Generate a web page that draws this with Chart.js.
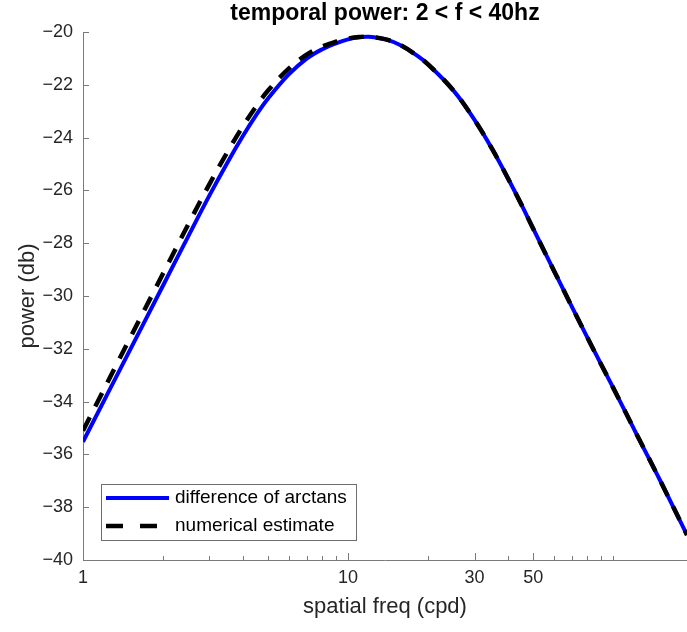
<!DOCTYPE html>
<html>
<head>
<meta charset="utf-8">
<script src="https://cdn.jsdelivr.net/npm/chart.js@4.4.1/dist/chart.umd.min.js"></script>
<style>
html,body{margin:0;padding:0;background:#fff;}
#wrap{width:687px;height:632px;}
canvas{display:block;}
</style>
</head>
<body>
<div id="wrap"><canvas id="c" width="687" height="632"></canvas></div>
<script>
// ---- data ----
const freqs = [1, 1.5, 2, 2.5, 3, 3.5, 4, 4.5, 5, 6, 7, 8, 9, 10, 11, 12, 14, 16, 18, 20, 25, 30, 35, 40, 45, 50, 60, 80, 100, 125, 150, 190];
const arctanDiff = [-35.52, -32.07, -29.62, -27.72, -26.19, -24.96, -23.96, -23.15, -22.51, -21.59, -21.00, -20.65, -20.43, -20.28, -20.20, -20.18, -20.29, -20.53, -20.86, -21.22, -22.22, -23.33, -24.44, -25.52, -26.52, -27.46, -29.07, -31.58, -33.47, -35.40, -36.96, -39.05];
const numericalEst = [-35.10, -31.62, -29.17, -27.27, -25.76, -24.56, -23.59, -22.82, -22.21, -21.37, -20.85, -20.55, -20.37, -20.25, -20.19, -20.18, -20.29, -20.53, -20.86, -21.22, -22.22, -23.33, -24.44, -25.52, -26.52, -27.46, -29.07, -31.58, -33.47, -35.40, -36.96, -39.05];
const seriesLabels = ['difference of arctans', 'numerical estimate'];
const xMajorTicks = [1, 10, 30, 50];
const xMinorTicks = [2, 3, 4, 5, 6, 7, 8, 9, 20, 40, 60, 70, 80, 90, 100];
const yTicks = [-40, -38, -36, -34, -32, -30, -28, -26, -24, -22, -20];
const xRange = [1, 190];
const yRange = [-40, -20];
const titleText = 'temporal power: 2 < f < 40hz';
const xTitle = 'spatial freq (cpd)';
const yTitle = 'power (db)';

const FONT = "'Liberation Sans', Arial, Helvetica, sans-serif";
const AXIS_COLOR = '#7a7a7a';
const TEXT_COLOR = '#262626';

const toPts = arr => freqs.map((f, i) => ({x: f, y: arr[i]}));
const fmtNum = v => (v < 0 ? '\u2212' + Math.abs(v) : String(v));

const decor = {
  id: 'decor',
  afterDatasetsDraw(chart) {
    const {ctx, chartArea: a, scales: {x, y}} = chart;
    ctx.save();
    // inward tick marks (MATLAB style)
    ctx.strokeStyle = AXIS_COLOR;
    ctx.lineWidth = 1;
    ctx.beginPath();
    xMajorTicks.forEach(v => {
      const px = Math.round(x.getPixelForValue(v)) + 0.5;
      ctx.moveTo(px, a.bottom); ctx.lineTo(px, a.bottom - 7);
    });
    xMinorTicks.forEach(v => {
      const px = Math.round(x.getPixelForValue(v)) + 0.5;
      ctx.moveTo(px, a.bottom); ctx.lineTo(px, a.bottom - 4);
    });
    yTicks.forEach(v => {
      const py = Math.round(y.getPixelForValue(v)) + 0.5;
      ctx.moveTo(a.left, py); ctx.lineTo(a.left + 6, py);
    });
    ctx.stroke();

    // legend box
    const bx = 101.5, by = 484.5, bw = 255, bh = 56;
    ctx.fillStyle = '#fff';
    ctx.fillRect(bx, by, bw, bh);
    ctx.strokeStyle = '#6e6e6e';
    ctx.lineWidth = 1;
    ctx.strokeRect(bx, by, bw, bh);
    const rows = [498, 526];
    chart.data.datasets.forEach((ds, i) => {
      const ry = rows[i];
      ctx.beginPath();
      ctx.strokeStyle = ds.borderColor;
      ctx.lineWidth = ds.borderWidth;
      ctx.setLineDash(ds.borderDash && ds.borderDash.length ? [17, 17] : []);
      ctx.moveTo(106, ry); ctx.lineTo(169, ry);
      ctx.stroke();
      ctx.setLineDash([]);
      ctx.fillStyle = '#000';
      ctx.font = '19px ' + FONT;
      ctx.textBaseline = 'middle';
      ctx.textAlign = 'left';
      ctx.fillText(ds.label, 175, ry);
    });
    ctx.restore();
  }
};

new Chart(document.getElementById('c'), {
  type: 'line',
  data: {
    datasets: [
      {
        label: seriesLabels[0],
        data: toPts(arctanDiff),
        borderColor: '#0000ff',
        borderWidth: 4,
        pointRadius: 0,
        tension: 0.4,
        fill: false,
        order: 1
      },
      {
        label: seriesLabels[1],
        data: toPts(numericalEst),
        borderColor: '#000000',
        borderWidth: 4.5,
        borderDash: [15, 12],
        pointRadius: 0,
        tension: 0.4,
        fill: false,
        order: 0
      }
    ]
  },
  options: {
    responsive: false,
    animation: false,
    devicePixelRatio: 1,
    layout: {padding: 0},
    plugins: {
      legend: {display: false},
      tooltip: {enabled: false},
      title: {
        display: true,
        text: titleText,
        fullSize: false,
        color: '#000',
        font: {family: FONT, size: 23, weight: 'bold'},
        padding: {top: 0, bottom: 4.4}
      }
    },
    scales: {
      x: {
        type: 'logarithmic',
        min: xRange[0],
        max: xRange[1],
        grid: {display: false, drawTicks: false},
        border: {display: true, color: AXIS_COLOR, width: 1},
        afterBuildTicks: s => { s.ticks = xMajorTicks.map(v => ({value: v})); },
        afterFit: s => { s.height = 72; },
        ticks: {
          autoSkip: false,
          maxRotation: 0,
          padding: 7,
          color: TEXT_COLOR,
          font: {family: FONT, size: 18},
          callback: v => fmtNum(v)
        },
        title: {
          display: true,
          text: xTitle,
          color: TEXT_COLOR,
          font: {family: FONT, size: 22},
          padding: {top: 0, bottom: 11.8}
        }
      },
      y: {
        type: 'linear',
        min: yRange[0],
        max: yRange[1],
        grid: {display: false, drawTicks: false},
        border: {display: true, color: AXIS_COLOR, width: 1},
        afterBuildTicks: s => { s.ticks = yTicks.map(v => ({value: v})); },
        afterFit: s => { s.width = 83; },
        ticks: {
          padding: 10,
          color: TEXT_COLOR,
          font: {family: FONT, size: 18},
          callback: v => fmtNum(v)
        },
        title: {
          display: true,
          text: yTitle,
          color: TEXT_COLOR,
          font: {family: FONT, size: 22},
          padding: {top: 15, bottom: 0}
        }
      }
    }
  },
  plugins: [decor]
});
</script>
</body>
</html>
